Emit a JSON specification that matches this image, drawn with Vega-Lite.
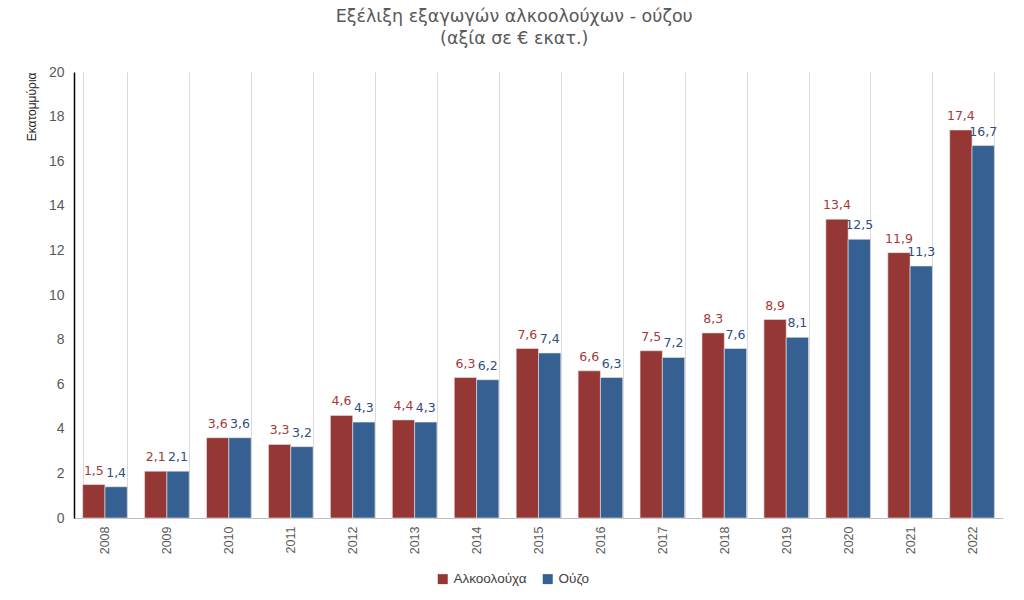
{
  "$schema": "https://vega.github.io/schema/vega-lite/v6.json",
  "width": 929,
  "height": 446,
  "autosize": {"type": "none"},
  "padding": {"left": 74, "top": 72, "right": 21, "bottom": 82},
  "background": "white",
  "config": {
    "locale": {"number": {"decimal": ",", "thousands": ".", "grouping": [3], "currency": ["", " €"]}},
    "view": {"stroke": null},
    "font": "Liberation Sans"
  },
  "title": {
    "text": "Εξέλιξη εξαγωγών αλκοολούχων - ούζου",
    "subtitle": "(αξία σε € εκατ.)",
    "anchor": "middle",
    "frame": "bounds",
    "font": "DejaVu Sans",
    "fontSize": 17.5,
    "fontWeight": "normal",
    "color": "#595959",
    "subtitleFont": "DejaVu Sans",
    "subtitleFontSize": 17.5,
    "subtitleColor": "#595959",
    "subtitlePadding": 4,
    "offset": 18
  },
  "data": {
    "values": [
      {"year": "2008", "series": "Αλκοολούχα", "value": 1.5},
      {"year": "2008", "series": "Ούζο", "value": 1.4},
      {"year": "2009", "series": "Αλκοολούχα", "value": 2.1},
      {"year": "2009", "series": "Ούζο", "value": 2.1},
      {"year": "2010", "series": "Αλκοολούχα", "value": 3.6},
      {"year": "2010", "series": "Ούζο", "value": 3.6},
      {"year": "2011", "series": "Αλκοολούχα", "value": 3.3},
      {"year": "2011", "series": "Ούζο", "value": 3.2},
      {"year": "2012", "series": "Αλκοολούχα", "value": 4.6},
      {"year": "2012", "series": "Ούζο", "value": 4.3},
      {"year": "2013", "series": "Αλκοολούχα", "value": 4.4},
      {"year": "2013", "series": "Ούζο", "value": 4.3},
      {"year": "2014", "series": "Αλκοολούχα", "value": 6.3},
      {"year": "2014", "series": "Ούζο", "value": 6.2},
      {"year": "2015", "series": "Αλκοολούχα", "value": 7.6},
      {"year": "2015", "series": "Ούζο", "value": 7.4},
      {"year": "2016", "series": "Αλκοολούχα", "value": 6.6},
      {"year": "2016", "series": "Ούζο", "value": 6.3},
      {"year": "2017", "series": "Αλκοολούχα", "value": 7.5},
      {"year": "2017", "series": "Ούζο", "value": 7.2},
      {"year": "2018", "series": "Αλκοολούχα", "value": 8.3},
      {"year": "2018", "series": "Ούζο", "value": 7.6},
      {"year": "2019", "series": "Αλκοολούχα", "value": 8.9},
      {"year": "2019", "series": "Ούζο", "value": 8.1},
      {"year": "2020", "series": "Αλκοολούχα", "value": 13.4},
      {"year": "2020", "series": "Ούζο", "value": 12.5},
      {"year": "2021", "series": "Αλκοολούχα", "value": 11.9},
      {"year": "2021", "series": "Ούζο", "value": 11.3},
      {"year": "2022", "series": "Αλκοολούχα", "value": 17.4},
      {"year": "2022", "series": "Ούζο", "value": 16.7}
    ]
  },
  "encoding": {
    "x": {
      "field": "year",
      "type": "nominal",
      "scale": {"paddingInner": 0.28, "paddingOuter": 0.14},
      "axis": {
        "title": null,
        "labelAngle": -90,
        "labelAlign": "right",
        "labelBaseline": "middle",
        "labelFontSize": 12.5,
        "labelColor": "#595959",
        "labelPadding": 8,
        "ticks": false,
        "tickBand": "extent",
        "grid": true,
        "gridColor": "#d9d9d9",
        "gridWidth": 1,
        "domainColor": "#bfbfbf",
        "domainWidth": 1
      }
    },
    "xOffset": {"field": "series", "type": "nominal", "sort": ["Αλκοολούχα", "Ούζο"]},
    "y": {
      "field": "value",
      "type": "quantitative",
      "scale": {"domain": [0, 20]},
      "axis": {
        "values": [0, 2, 4, 6, 8, 10, 12, 14, 16, 18, 20],
        "grid": false,
        "ticks": false,
        "domainColor": "#000000",
        "domainWidth": 1.5,
        "labelFontSize": 14,
        "labelColor": "#595959",
        "labelPadding": 10,
        "title": "Εκατομμύρια",
        "titleFontSize": 12,
        "titleFontWeight": "normal",
        "titleColor": "#262626",
        "titleAnchor": "end",
        "titlePadding": 10
      }
    }
  },
  "layer": [
    {
      "mark": {"type": "bar", "stroke": "#e6e6e6", "strokeWidth": 0.6},
      "encoding": {
        "color": {
          "field": "series",
          "type": "nominal",
          "scale": {"domain": ["Αλκοολούχα", "Ούζο"], "range": ["#953735", "#376092"]},
          "legend": {
            "title": null,
            "orient": "none",
            "legendX": 362,
            "legendY": 500,
            "direction": "horizontal",
            "symbolType": "square",
            "symbolSize": 100,
            "symbolStrokeWidth": 0,
            "labelFontSize": 13.5,
            "labelColor": "#404040",
            "columnPadding": 14
          }
        }
      }
    },
    {
      "mark": {"type": "text", "baseline": "bottom", "dy": -7, "font": "DejaVu Sans", "fontSize": 12.5},
      "encoding": {
        "text": {"field": "value", "type": "quantitative", "format": ".1f"},
        "color": {
          "field": "series",
          "type": "nominal",
          "scale": {"domain": ["Αλκοολούχα", "Ούζο"], "range": ["#a33a3a", "#2e4e7e"]},
          "legend": null
        }
      }
    }
  ],
  "resolve": {"scale": {"color": "independent"}}
}
